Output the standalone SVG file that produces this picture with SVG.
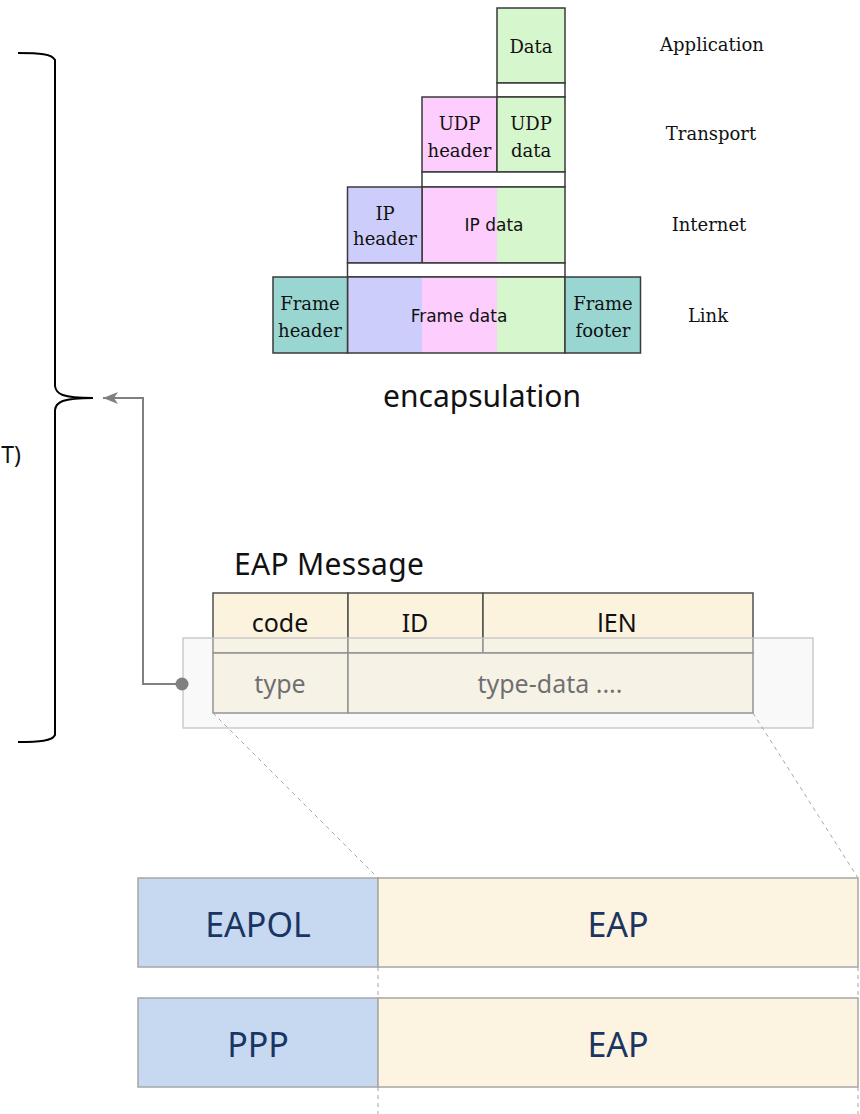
<svg xmlns="http://www.w3.org/2000/svg" width="860" height="1114" viewBox="0 0 860 1114">
  <defs>
    <style>
      .enc { stroke: #3a3a3a; stroke-width: 1.5; }
      .serif { font-family: "DejaVu Serif", "Liberation Serif", serif; font-size: 18px; fill: #111; text-anchor: middle; }
      .sansS { font-family: "DejaVu Sans", "Liberation Sans", sans-serif; font-size: 17px; fill: #111; text-anchor: middle; }
      .lbl { font-family: "Noto Sans", "Open Sans", sans-serif; fill: #111; }
      .tbl { fill: #fcf3df; stroke: #505050; stroke-width: 1.5; }
      .tbltxt { font-family: "Noto Sans", "Open Sans", sans-serif; font-size: 25px; fill: #111; text-anchor: middle; }
      .hdr { fill: #c6d9f0; stroke: #a6a6a6; stroke-width: 1.5; }
      .pay { fill: #fdf3e1; stroke: #a6a6a6; stroke-width: 1.5; }
      .big { font-family: "Noto Sans", "Open Sans", sans-serif; font-size: 34px; fill: #1b3563; text-anchor: middle; }
      .dash { stroke: #a6a6a6; stroke-width: 1; stroke-dasharray: 4 4; fill: none; }
    </style>
    <marker id="arrowHead" viewBox="0 0 15 12" refX="15" refY="6" markerWidth="15" markerHeight="12" markerUnits="userSpaceOnUse" orient="auto">
      <path d="M0,0 L15,6 L0,12 L4,6 Z" fill="#808080"/>
    </marker>
  </defs>

  <!-- Encapsulation stack -->
  <g id="enc-application">
    <rect x="497" y="8" width="68" height="75" fill="#d6f6cd" class="enc"/>
    <text x="531" y="53" class="serif">Data</text>
  </g>
  <rect x="497" y="83" width="68" height="14" fill="#fff" class="enc"/>

  <g id="enc-transport">
    <rect x="422" y="97" width="75" height="75" fill="#fdcdfd" class="enc"/>
    <rect x="497" y="97" width="68" height="75" fill="#d6f6cd" class="enc"/>
    <text x="459.5" y="130" class="serif">UDP</text>
    <text x="459.5" y="157" class="serif">header</text>
    <text x="531" y="130" class="serif">UDP</text>
    <text x="531" y="157" class="serif">data</text>
  </g>
  <rect x="422" y="172" width="143" height="15" fill="#fff" class="enc"/>

  <g id="enc-internet">
    <rect x="422" y="187" width="75" height="76" fill="#fdcdfd"/>
    <rect x="497" y="187" width="68" height="76" fill="#d6f6cd"/>
    <rect x="422" y="187" width="143" height="76" fill="none" class="enc"/>
    <rect x="347.5" y="187" width="74.5" height="76" fill="#cdcdfb" class="enc"/>
    <text x="385" y="220" class="serif">IP</text>
    <text x="385" y="245" class="serif">header</text>
    <text x="494" y="231" class="sansS">IP data</text>
  </g>
  <rect x="347.5" y="263" width="217.5" height="14" fill="#fff" class="enc"/>

  <g id="enc-link">
    <rect x="347.5" y="277" width="74.5" height="76" fill="#cdcdfb"/>
    <rect x="422" y="277" width="75" height="76" fill="#fdcdfd"/>
    <rect x="497" y="277" width="68" height="76" fill="#d6f6cd"/>
    <rect x="347.5" y="277" width="217.5" height="76" fill="none" class="enc"/>
    <rect x="273" y="277" width="74.5" height="76" fill="#99d6d2" class="enc"/>
    <rect x="565" y="277" width="75.5" height="76" fill="#99d6d2" class="enc"/>
    <text x="310" y="310" class="serif">Frame</text>
    <text x="310" y="337" class="serif">header</text>
    <text x="603" y="310" class="serif">Frame</text>
    <text x="603" y="337" class="serif">footer</text>
    <text x="459" y="322" class="sansS">Frame data</text>
  </g>

  <g id="layer-labels">
    <text x="712" y="51" class="serif">Application</text>
    <text x="711" y="140" class="serif">Transport</text>
    <text x="709" y="231" class="serif">Internet</text>
    <text x="708" y="322" class="serif">Link</text>
  </g>

  <text id="enc-caption" x="482" y="407" class="lbl" font-size="30" text-anchor="middle">encapsulation</text>

  <!-- Curly brace on the left -->
  <g id="brace">
    <path d="M18,53 C40,53 52,54 55,60 L55,386 C56,394 62,398 93,398 C62,398 56,402 55,410 L55,735 C52,741 40,742 18,742" fill="none" stroke="#000" stroke-width="2"/>
    <text x="21" y="463" class="lbl" font-size="23" text-anchor="end">T)</text>
  </g>

  <!-- EAP message layout -->
  <g id="eap-message">
    <text x="234" y="575" class="lbl" font-size="30" letter-spacing="0.3">EAP Message</text>
    <rect x="213" y="593" width="135" height="60" class="tbl"/>
    <rect x="348" y="593" width="135" height="60" class="tbl"/>
    <rect x="483" y="593" width="270" height="60" class="tbl"/>
    <rect x="213" y="653" width="135" height="60" class="tbl"/>
    <rect x="348" y="653" width="405" height="60" class="tbl"/>
    <text x="280" y="632" class="tbltxt">code</text>
    <text x="415" y="632" class="tbltxt">ID</text>
    <text x="617" y="632" class="tbltxt">lEN</text>
    <text x="280" y="693" class="tbltxt">type</text>
    <text x="550" y="693" class="tbltxt">type-data ....</text>
  </g>

  <g id="eap-highlight">
    <rect x="183" y="638" width="630" height="90" fill="#f0f0f0" fill-opacity="0.42" stroke="#c4c4c4" stroke-width="1.3"/>
  </g>

  <!-- Connectors -->
  <g id="connectors">
    <path d="M182,684 L143,684 L143,398 L103,398" fill="none" stroke="#808080" stroke-width="2" marker-end="url(#arrowHead)"/>
    <circle cx="182" cy="684" r="6.5" fill="#808080"/>
    <path class="dash" d="M213,713 L378,878"/>
    <path class="dash" d="M753,713 L858,878"/>
    <path class="dash" d="M378,967 L378,998 M378,1087 L378,1114"/>
    <path class="dash" d="M858,967 L858,998 M858,1087 L858,1114"/>
  </g>

  <!-- Carrier frames -->
  <g id="eapol-frame">
    <rect x="138" y="878" width="240" height="89" class="hdr"/>
    <rect x="378" y="878" width="480" height="89" class="pay"/>
    <text x="258" y="937" class="big">EAPOL</text>
    <text x="618" y="937" class="big">EAP</text>
  </g>
  <g id="ppp-frame">
    <rect x="138" y="998" width="240" height="89" class="hdr"/>
    <rect x="378" y="998" width="480" height="89" class="pay"/>
    <text x="258" y="1057" class="big">PPP</text>
    <text x="618" y="1057" class="big">EAP</text>
  </g>
</svg>
